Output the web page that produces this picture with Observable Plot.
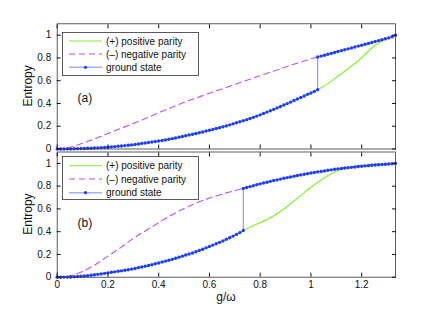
<!DOCTYPE html>
<html><head><meta charset="utf-8">
<script src="https://cdn.jsdelivr.net/npm/d3@7"></script>
<script src="https://cdn.jsdelivr.net/npm/@observablehq/plot@0.6"></script>
<style>
body{margin:0;background:#fff;}
#wrap{position:relative;width:436px;height:314px;font-family:"Liberation Sans",Arial,sans-serif;}
#wrap svg{position:absolute;left:0;overflow:visible;}
#xlabel{position:absolute;left:0;width:452px;top:290px;text-align:center;font-size:12px;color:#111;}
</style></head><body><div id="wrap"><div id="xlabel">g/ω</div></div>
<script>
const xTicks = [0, 0.2, 0.4, 0.6, 0.8, 1, 1.2];
const yTicks = [0, 0.2, 0.4, 0.6, 0.8, 1];
const legendLabels = ["(+) positive parity", "(\u2013) negative parity", "ground state"];
const panelTags = ["(a)", "(b)"];

// coarse coupling values for the parity curves
const coarseG = [0,0.05,0.1,0.15,0.2,0.25,0.3,0.35,0.4,0.45,0.5,0.55,0.6,0.65,0.7,0.75,0.8,0.85,0.9,0.95,1.0,1.05,1.1,1.15,1.2,1.25,1.3,1.3333];
const posA = [0,0.001,0.004,0.009,0.016,0.026,0.038,0.054,0.07,0.09,0.113,0.138,0.165,0.193,0.225,0.26,0.30,0.343,0.39,0.44,0.492,0.55,0.628,0.712,0.802,0.905,0.97,1.0];
const negA = [0,0.015,0.05,0.092,0.136,0.18,0.225,0.27,0.318,0.364,0.41,0.45,0.49,0.528,0.567,0.606,0.644,0.682,0.72,0.757,0.792,0.822,0.852,0.882,0.912,0.942,0.972,1.0];
const posB = [0,0.002,0.009,0.022,0.038,0.055,0.074,0.098,0.125,0.155,0.19,0.225,0.268,0.315,0.368,0.43,0.478,0.535,0.61,0.70,0.79,0.87,0.93,0.965,0.983,0.993,0.998,1.0];
const negB = [0,0.013,0.05,0.11,0.185,0.26,0.34,0.41,0.48,0.545,0.603,0.653,0.695,0.73,0.76,0.79,0.82,0.847,0.872,0.895,0.915,0.933,0.95,0.963,0.975,0.985,0.993,1.0];

// ground state sampled every 1/75 in g (101 samples)
const groundStep = 1 / 75;
const groundA = [
0,0,0.0005,0.001,0.001,0.002,0.003,0.004,0.005,0.006,
0.007,0.009,0.010,0.012,0.014,0.016,0.019,0.021,0.024,0.027,
0.030,0.033,0.036,0.040,0.044,0.049,0.053,0.057,0.061,0.066,
0.070,0.075,0.080,0.086,0.091,0.097,0.104,0.110,0.116,0.123,
0.130,0.136,0.143,0.150,0.158,0.165,0.172,0.180,0.187,0.195,
0.203,0.212,0.221,0.230,0.239,0.248,0.258,0.268,0.278,0.289,
0.300,0.312,0.324,0.336,0.348,0.361,0.374,0.386,0.399,0.412,
0.426,0.439,0.453,0.466,0.480,0.492,0.506,0.520,0.816,0.824,
0.832,0.840,0.848,0.856,0.864,0.872,0.880,0.888,0.896,0.904,
0.912,0.920,0.928,0.936,0.944,0.952,0.960,0.968,0.976,0.986,
1.0];
const jumpA = {index: 77, top: 0.808};
const groundB = [
0,0,0.001,0.001,0.002,0.004,0.006,0.008,0.010,0.013,
0.017,0.021,0.025,0.029,0.034,0.038,0.043,0.047,0.052,0.056,
0.061,0.066,0.071,0.077,0.084,0.090,0.096,0.103,0.110,0.118,
0.125,0.133,0.141,0.149,0.157,0.166,0.176,0.185,0.195,0.204,
0.213,0.223,0.234,0.246,0.258,0.270,0.282,0.294,0.306,0.319,
0.333,0.347,0.361,0.376,0.392,0.410,0.788,0.796,0.804,0.812,
0.820,0.827,0.834,0.842,0.849,0.855,0.862,0.869,0.875,0.881,
0.887,0.893,0.899,0.904,0.910,0.915,0.920,0.925,0.929,0.934,
0.939,0.943,0.948,0.952,0.955,0.959,0.962,0.965,0.968,0.972,
0.975,0.978,0.980,0.983,0.986,0.988,0.990,0.992,0.994,0.997,
1.0];
const jumpB = {index: 55, top: 0.78};

const C = {pos: "#7ef02a", neg: "#c24df2", line: "#7088ff", dot: "#1d3dff", ink: "#111"};
const FONT = '"Liberation Sans", Arial, sans-serif';

function groundRows(vals, jump) {
  const rows = [];
  vals.forEach((v, i) => {
    rows.push({g: i * groundStep, v});
    if (i === jump.index) rows.push({g: i * groundStep, v: jump.top});
  });
  return rows;
}

function panel({pos, neg, ground, jump, tag, tagY, top, height, mTop, mBottom, showX, legendTop, rowYs}) {
  const posRows = coarseG.map((g, i) => ({g, v: pos[i]}));
  const negRows = coarseG.map((g, i) => ({g, v: neg[i]}));
  const gRows = groundRows(ground, jump);
  const svg = Plot.plot({
    width: 436, height,
    marginLeft: 56.7, marginRight: 41, marginTop: mTop, marginBottom: mBottom,
    x: {domain: [0, 4 / 3]},
    y: {domain: [0, 1.1]},
    style: {fontFamily: FONT, fontSize: "10px", color: C.ink, background: "transparent", overflow: "visible"},
    marks: [
      Plot.line(posRows, {x: "g", y: "v", stroke: C.pos, strokeWidth: 1.1, curve: "catmull-rom"}),
      Plot.line(negRows, {x: "g", y: "v", stroke: C.neg, strokeWidth: 1.1, strokeDasharray: "6,4", curve: "catmull-rom"}),
      Plot.line(gRows, {x: "g", y: "v", stroke: C.line, strokeWidth: 1}),
      Plot.dot(gRows, {x: "g", y: "v", r: 1.7, fill: C.dot, stroke: "none"}),
      Plot.frame({stroke: "#333", strokeWidth: 0.8}),
      Plot.axisY({anchor: "left", ticks: yTicks, tickSize: -4, tickPadding: 10, tickFormat: d => String(d), label: null, fontSize: 10}),
      Plot.axisY({anchor: "right", ticks: yTicks, tickSize: -4, tickFormat: () => "", label: null}),
      Plot.axisX({anchor: "bottom", ticks: xTicks, tickSize: -4, tickPadding: 8, tickFormat: showX ? (d => String(d)) : () => "", label: null, fontSize: 10}),
      Plot.axisX({anchor: "top", ticks: xTicks, tickSize: -4, tickFormat: () => "", label: null}),
      Plot.text([tag], {x: 0.08, y: tagY, text: d => d, textAnchor: "start", lineAnchor: "middle", fontSize: 12, fill: C.ink})
    ]
  });
  svg.style.top = top + "px";
  const s = d3.select(svg);
  // y label
  const cy = mTop + (height - mTop - mBottom) / 2;
  s.append("text").attr("transform", `translate(28,${cy}) rotate(-90)`).attr("dy", "0.35em")
    .attr("text-anchor", "middle").attr("font-size", 12).attr("font-family", FONT).attr("fill", C.ink).text("Entropy");
  // legend
  const lg = s.append("g").attr("font-family", FONT).attr("font-size", 10).attr("fill", C.ink).attr("text-anchor", "start");
  lg.append("rect").attr("x", 62.5).attr("y", legendTop).attr("width", 136).attr("height", 43)
    .attr("fill", "#fff").attr("stroke", "#333").attr("stroke-width", 0.8);
  const x1 = 69, x2 = 102;
  lg.append("line").attr("x1", x1).attr("x2", x2).attr("y1", rowYs[0]).attr("y2", rowYs[0]).attr("stroke", C.pos).attr("stroke-width", 1.1);
  lg.append("line").attr("x1", x1).attr("x2", x2).attr("y1", rowYs[1]).attr("y2", rowYs[1]).attr("stroke", C.neg).attr("stroke-width", 1.1).attr("stroke-dasharray", "6,4");
  lg.append("line").attr("x1", x1).attr("x2", x2).attr("y1", rowYs[2]).attr("y2", rowYs[2]).attr("stroke", "#9fb0ff").attr("stroke-width", 1.6);
  lg.append("circle").attr("cx", (x1 + x2) / 2).attr("cy", rowYs[2]).attr("r", 1.6).attr("fill", C.dot);
  legendLabels.forEach((t, i) => {
    lg.append("text").attr("x", 106).attr("y", rowYs[i]).attr("dy", "0.35em").attr("text-anchor", "start").text(t);
  });
  document.getElementById("wrap").appendChild(svg);
}

panel({pos: posA, neg: negA, ground: groundA, jump: jumpA, tag: panelTags[0], tagY: 0.45,
  top: 0, height: 150, mTop: 23.3, mBottom: 1.5, showX: false, legendTop: 32.5, rowYs: [41, 54, 67.3]});
panel({pos: posB, neg: negB, ground: groundB, jump: jumpB, tag: panelTags[1], tagY: 0.475,
  top: 150, height: 164, mTop: 1.5, mBottom: 37.3, showX: true, legendTop: 6.5, rowYs: [15.7, 29, 42.7]});
</script>
</body></html>
